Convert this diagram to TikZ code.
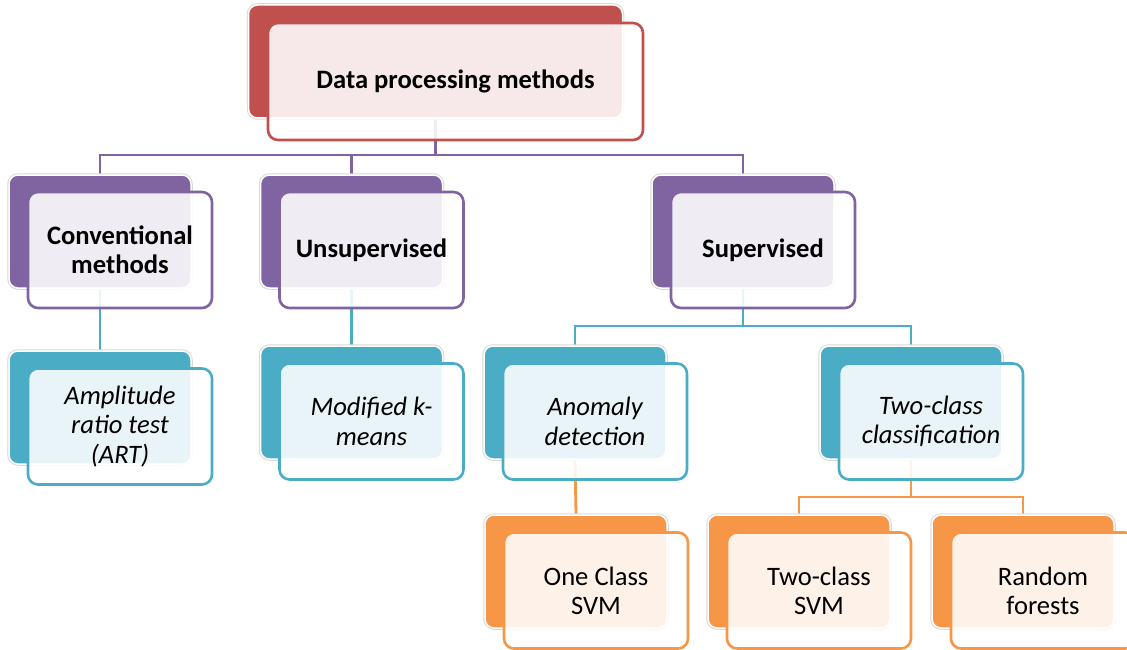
\documentclass[tikz,border=0pt]{standalone}
\usepackage{fontspec}
\setmainfont{Carlito}
\usetikzlibrary{calc}
\pgfdeclarelayer{bg}
\pgfsetlayers{bg,main}
\definecolor{cred}{HTML}{C0504D}
\definecolor{cpurple}{HTML}{8064A2}
\definecolor{cblue}{HTML}{4BACC6}
\definecolor{corange}{HTML}{F79646}
\begin{document}
\begin{tikzpicture}[x=1pt,y=-1pt,
  bkbox/.style={rectangle, rounded corners=9pt, minimum width=182pt, minimum height=113pt,
    inner sep=0pt, fill=#1, draw=white, line width=1.5pt,
    preaction={draw=black!15, line width=3.5pt}},
  frbox/.style={rectangle, rounded corners=10pt, minimum width=184pt, minimum height=116pt,
    inner sep=0pt, fill=white, fill opacity=0.88, text opacity=1, draw=#1, line width=2.6pt,
    align=center, font=\fontsize{26.6}{29}\selectfont},
  conn/.style={draw=#1, line width=2.8pt},
  lvone/.style={font=\fontsize{26.6}{29}\selectfont\bfseries},
  lvtwo/.style={font=\fontsize{26.6}{29}\selectfont\bfseries},
  lvthree/.style={font=\fontsize{26.6}{29.5}\selectfont\itshape},
  lvfour/.style={font=\fontsize{26.6}{29}\selectfont}]
\useasboundingbox (0,0) rectangle (1127,650);

% top
\node[bkbox=cred, minimum width=374pt, minimum height=113pt] (topb) at (435.5,61.5) {};
\node[frbox=cred, lvone, minimum width=375pt, minimum height=117pt] (top) at (455.5,81.5) {Data processing methods};

% level 2
\node[bkbox=cpurple] (convb) at (100,231.5) {};
\node[frbox=cpurple, lvtwo] (conv) at (120,250) {Conventional\\methods};
\node[bkbox=cpurple] (unsb) at (351.5,231.5) {};
\node[frbox=cpurple, lvtwo] (uns) at (371.5,250) {Unsupervised};
\node[bkbox=cpurple] (supb) at (743,231.5) {};
\node[frbox=cpurple, lvtwo] (sup) at (763,250) {Supervised};

% level 3
\node[bkbox=cblue] (artb) at (100,407.5) {};
\node[frbox=cblue, lvthree] (art) at (120,426.5) {Amplitude\\ratio test\\(ART)};
\node[bkbox=cblue] (modb) at (351.5,402.5) {};
\node[frbox=cblue, lvthree] (mod) at (371.5,421.5) {Modified k-\\means};
\node[bkbox=cblue] (anob) at (575,402.5) {};
\node[frbox=cblue, lvthree] (ano) at (595,421.5) {Anomaly\\detection};
\node[bkbox=cblue] (twcb) at (911,402.5) {};
\node[frbox=cblue, lvthree] (twc) at (931,421.5) {Two-class\\classification};

% level 4
\node[bkbox=corange] (ocsb) at (576,571.5) {};
\node[frbox=corange, lvfour] (ocs) at (596,590.5) {One Class\\SVM};
\node[bkbox=corange] (tcsb) at (799,571.5) {};
\node[frbox=corange, lvfour] (tcs) at (819,590.5) {Two-class\\SVM};
\node[bkbox=corange] (rfb) at (1023,571.5) {};
\node[frbox=corange, lvfour] (rf) at (1043,590.5) {Random\\forests};

\coordinate (ja) at (0,155);
\coordinate (jb) at (0,326);
\coordinate (jc) at (0,497);

\begin{pgfonlayer}{bg}
\draw[conn=cpurple] (topb.south) -- (topb.south |- ja) -| (convb.north);
\draw[conn=cpurple] (topb.south |- ja) -| (unsb.north);
\draw[conn=cpurple] (topb.south |- ja) -| (supb.north);
\draw[conn=cblue] (convb.south) -- (artb.north);
\draw[conn=cblue] (unsb.south) -- (modb.north);
\draw[conn=cblue] (supb.south) -- (supb.south |- jb) -| (anob.north);
\draw[conn=cblue] (supb.south |- jb) -| (twcb.north);
\draw[conn=corange] (anob.south) -- (ocsb.north);
\draw[conn=corange] (twcb.south) -- (twcb.south |- jc) -| (tcsb.north);
\draw[conn=corange] (twcb.south |- jc) -| (rfb.north);
\end{pgfonlayer}
\end{tikzpicture}
\end{document}
